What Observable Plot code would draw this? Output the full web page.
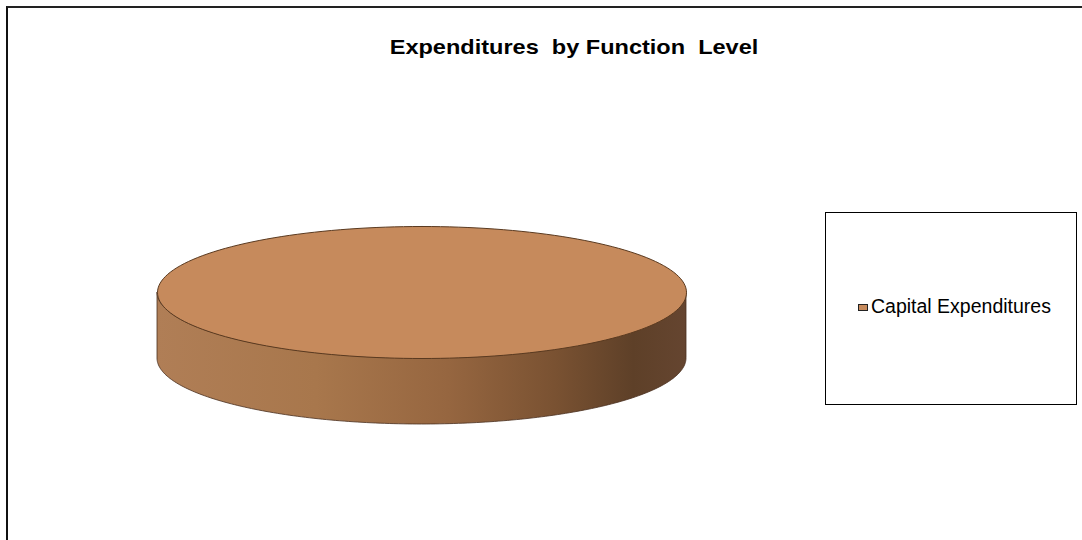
<!DOCTYPE html>
<html>
<head>
<meta charset="utf-8">
<script src="https://cdn.jsdelivr.net/npm/d3@7"></script>
<script src="https://cdn.jsdelivr.net/npm/@observablehq/plot@0.6"></script>
<style>
  html, body { margin: 0; padding: 0; background: #fff; }
  body { width: 1082px; height: 540px; position: relative; overflow: hidden; font-family: "Liberation Sans", Arial, sans-serif; }
  #frame { position: absolute; left: 6px; top: 6px; width: 1100px; height: 560px; border-left: 2px solid #111; border-top: 2px solid #222; box-sizing: border-box; }
  #chart { position: absolute; left: 0; top: 0; }
  #title { position: absolute; left: 574px; top: 36px; transform: translateX(-50%) scaleX(1.12); font-weight: bold; font-size: 21px; line-height: 1; white-space: pre; color: #000; }
  #legend { position: absolute; left: 825px; top: 212px; width: 252px; height: 193px; border: 1.5px solid #000; box-sizing: border-box; background: #fff; }
  .item { position: absolute; left: 32px; top: 84px; font-size: 19.5px; line-height: 1; white-space: nowrap; color: #000; }
  .sw { display: inline-block; width: 8px; height: 5px; border: 1px solid #222; margin-right: 3px; vertical-align: 2px; }
</style>
</head>
<body>
<div id="chart"></div>
<div id="frame"></div>
<div id="title"></div>
<div id="legend"></div>
<script>
// ---- data ----
const categories = ["Capital Expenditures"];
const values = [100];
const titleText = "Expenditures  by Function  Level";
const sliceColors = ["#c68a5c"];

// ---- geometry from data ----
const arcs = d3.pie().sort(null)(values);
const depth = 1.0; // side thickness in y-units
const N = 180;
function pt(a) { return {x: Math.sin(a), y: -Math.cos(a)}; }

const topFaces = [];
const sides = [];
arcs.forEach((arc, i) => {
  const full = arc.endAngle - arc.startAngle >= 2 * Math.PI - 1e-9;
  const pts = [];
  if (!full) pts.push({x: 0, y: 0, k: i});
  for (let j = 0; j <= N; j++) {
    const a = arc.startAngle + (arc.endAngle - arc.startAngle) * j / N;
    pts.push({...pt(a), k: i});
  }
  topFaces.push(...pts);
  const s0 = Math.max(arc.startAngle, Math.PI / 2);
  const s1 = Math.min(arc.endAngle, 3 * Math.PI / 2);
  if (s1 > s0) {
    for (let j = 0; j <= N; j++) {
      const a = s0 + (s1 - s0) * j / N;
      const p = pt(a);
      sides.push({x: p.x, y1: p.y, y2: p.y + depth, k: i});
    }
  }
});

const plot = Plot.plot({
  width: 1082,
  height: 540,
  margin: 0,
  x: {domain: [-1, 1], range: [157, 686], axis: null},
  y: {domain: [-1, 1], range: [226, 358], axis: null},
  marks: [
    Plot.areaY(sides, {x: "x", y1: "y1", y2: "y2", z: "k", fill: "url(#sideGrad)", stroke: "#4a3020", strokeWidth: 0.8}),
    Plot.line(topFaces, {x: "x", y: "y", z: "k", curve: "linear-closed", fill: (d) => sliceColors[d.k], stroke: "#5a3a20", strokeWidth: 1})
  ]
});

const svg = d3.select(plot);
const defs = svg.insert("defs", ":first-child");
const g = defs.append("linearGradient").attr("id", "sideGrad").attr("x1", "0%").attr("x2", "100%").attr("y1", "0%").attr("y2", "0%");
[[0, "#b07e56"], [0.3, "#a8774c"], [0.55, "#966640"], [0.75, "#7a5232"], [0.9, "#5e4028"], [1, "#654530"]].forEach(([o, c]) => g.append("stop").attr("offset", o).attr("stop-color", c));

document.getElementById("chart").appendChild(plot);
document.getElementById("title").textContent = titleText;

const legend = document.getElementById("legend");
categories.forEach((c, i) => {
  const item = document.createElement("div");
  item.className = "item";
  const sw = document.createElement("span");
  sw.className = "sw";
  sw.style.background = sliceColors[i];
  item.appendChild(sw);
  item.appendChild(document.createTextNode(c));
  legend.appendChild(item);
});
</script>
</body>
</html>
